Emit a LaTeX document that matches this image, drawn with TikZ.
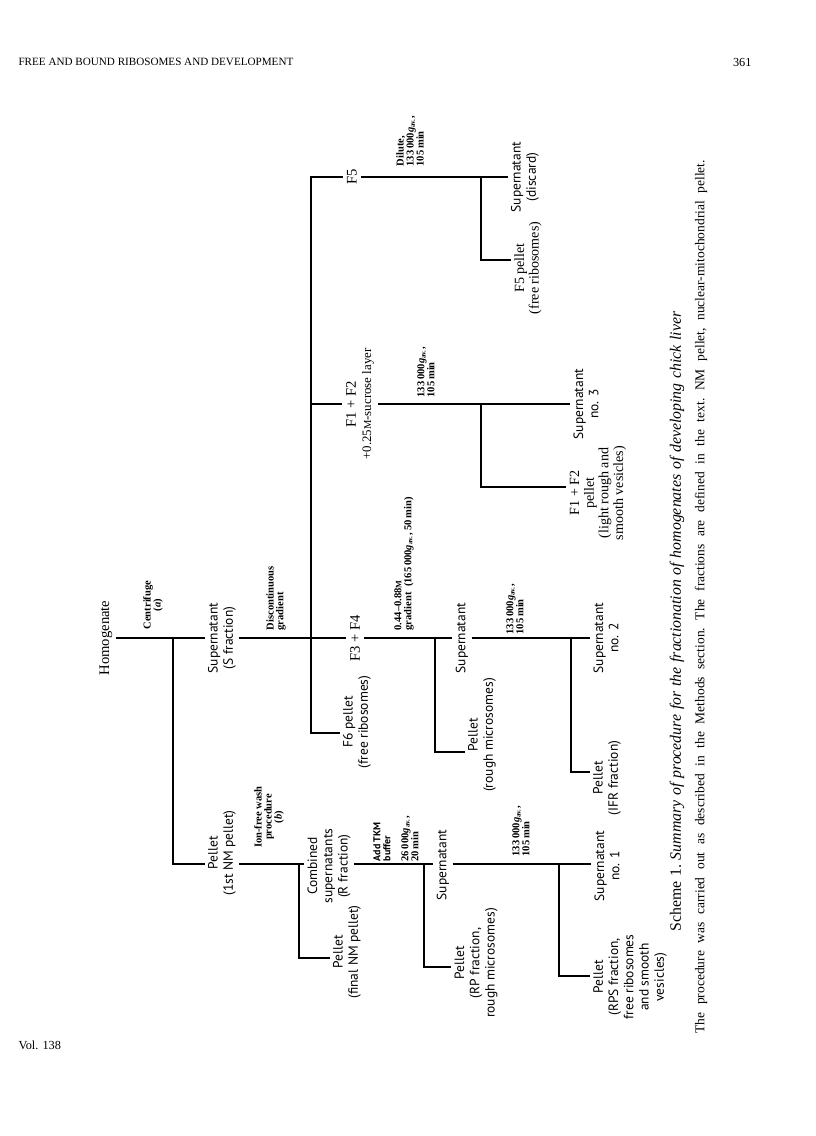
\documentclass[tikz,border=0pt]{standalone}
\usepackage{fontspec}
\setmainfont{Liberation Serif}
\setsansfont{PT Sans}
\newcommand{\gav}{\textit{g}\textsubscript{av.}}
\newcommand{\molar}{{\scriptsize M}}

\begin{document}
\begin{tikzpicture}[
      x=0.03cm, y=-0.03cm,
      line width=0.9pt,
      prod/.style={rotate=90, align=center, inner sep=2.5pt, font=\sffamily\fontsize{11.5}{13}\selectfont},
      prodrm/.style={rotate=90, align=center, inner sep=2.5pt, font=\fontsize{12}{12.5}\selectfont},
      fr/.style={rotate=90, align=center, inner sep=3pt, font=\fontsize{12.5}{13}\selectfont},
      cond/.style={rotate=90, align=center, inner sep=1pt, font=\bfseries\fontsize{9}{8.5}\selectfont},
      condl/.style={cond, anchor=west, align=left},
      condsf/.style={condl, font=\sffamily\bfseries\fontsize{8.5}{8.5}\selectfont},
      pagetext/.style={inner sep=0pt, font=\fontsize{9.5}{12}\selectfont}
    ]
      \path[use as bounding box, fill=white] (0,0) rectangle (816,1136);

      \node[pagetext, anchor=west] (hdr) at (18,62) {FREE AND BOUND RIBOSOMES AND DEVELOPMENT};
      \node[pagetext, anchor=east, font=\fontsize{10.5}{12}\selectfont] (pgno) at (752,62) {361};
      \node[pagetext, anchor=west, font=\fontsize{10.5}{12}\selectfont] (vol) at (18,1045) {Vol. 138};

      \node[fr] (homog) at (106,638) {Homogenate};
      \node[prod] (sfrac) at (222,638) {Supernatant\\(S fraction)};
      \node[prod] (pel1) at (222,853) {Pellet\\(1st NM pellet)};
      \node[prod] (comb) at (329,866) {Combined\\supernatants\\(R fraction)};
      \node[prod] (pelfin) at (347,952) {Pellet\\(final NM pellet)};
      \node[prod] (supR) at (443,865) {Supernatant};
      \node[prod] (pelRP) at (476,963) {Pellet\\(RP fraction,\\rough microsomes)};
      \node[prod] (sup1) at (607,866) {Supernatant\\no. 1};
      \node[prod] (pelRPS) at (630,977) {Pellet\\(RPS fraction,\\free ribosomes\\and smooth\\vesicles)};

      \node[fr] (f5) at (352,177) {F5};
      \node[prod] (supdis) at (525,177) {Supernatant\\(discard)};
      \node[prodrm] (f5pel) at (528,268) {F5 pellet\\(free ribosomes)};
      \node[fr] (f12) at (360,404) {F1 + F2\\{\fontsize{11}{13}\selectfont +0.25{\small M}-sucrose layer}};
      \node[prod] (sup3) at (586,404) {Supernatant\\no. 3};
      \node[prodrm] (f12pel) at (598,493) {F1 + F2\\pellet\\(light rough and\\smooth vesicles)};
      \node[fr] (f34) at (355,638) {F3 + F4};
      \node[prod] (f6) at (357,722) {F6 pellet\\(free ribosomes)};
      \node[prod] (supF) at (462,638) {Supernatant};
      \node[prod] (pelrough) at (482,735) {Pellet\\(rough microsomes)};
      \node[prod] (sup2) at (606,638) {Supernatant\\no. 2};
      \node[prod] (pelIFR) at (607,778) {Pellet\\(IFR fraction)};

      \node[cond] (cfg) at (153,605) {Centrifuge\\(\textit{a})};
      \node[condl] (disc) at (276,632) {Discontinuous\\gradient};
      \node[cond] (wash) at (269,817) {Ion-free wash\\procedure\\(\textit{b})};
      \node[condsf] (tkm) at (382,863) {Add TKM\\buffer};
      \node[condl] (spinA) at (410,863) {26\,000\gav,\\20\,min};
      \node[condl] (spinB) at (521,858) {133\,000\gav,\\105\,min};
      \node[condl] (grad) at (404,632) {0.44--0.88\molar\\gradient\ \ (165\,000\gav, 50\,min)};
      \node[condl] (spinC) at (515,636) {133\,000\gav,\\105\,min};
      \node[condl] (spinD) at (426,399) {133\,000\gav,\\105\,min};
      \node[condl] (spinE) at (410,168) {Dilute,\\133\,000\gav,\\105\,min};

      \node[rotate=90, anchor=west, inner sep=0pt, font=\fontsize{13.5}{14}\selectfont] (cap) at (677,932)
        {\frenchspacing\makebox[18.6cm][s]{Scheme 1. \textit{Summary of procedure for the fractionation of homogenates of developing chick liver}}};
      \node[rotate=90, anchor=west, inner sep=0pt, font=\fontsize{11.5}{13}\selectfont] (note) at (701,1034)
        {\frenchspacing\makebox[26.2cm][s]{The procedure was carried out as described in the Methods section. The fractions are defined in the text. NM pellet, nuclear-mitochondrial pellet.}};

      \coordinate (c1) at (173,638);
      \coordinate (d1) at (173,864);
      \coordinate (c2) at (299,864);
      \coordinate (d2) at (299,958);
      \coordinate (c3) at (424,864);
      \coordinate (d3) at (424,967);
      \coordinate (c4) at (559,864);
      \coordinate (d4) at (559,976);
      \coordinate (m1) at (311,177);
      \coordinate (m2) at (311,733);
      \coordinate (m3) at (311,404);
      \coordinate (c5) at (435,638);
      \coordinate (d5) at (435,752);
      \coordinate (c6) at (571,638);
      \coordinate (d6) at (571,772);
      \coordinate (c7) at (481,177);
      \coordinate (d7) at (481,260);
      \coordinate (c8) at (481,404);
      \coordinate (d8) at (481,487);

      \draw (homog.south) -- (sfrac.north);
      \draw (c1) -- (d1) -- (d1 -| pel1.north);
      \draw (pel1.south |- c2) -- (comb.north |- c2);
      \draw (comb.south |- c2) -- (supR.north |- c2);
      \draw (supR.south |- c2) -- (sup1.north |- c2);
      \draw (c2) -- (d2) -- (d2 -| pelfin.north);
      \draw (c3) -- (d3) -- (d3 -| pelRP.north);
      \draw (c4) -- (d4) -- (d4 -| pelRPS.north);

      \draw (sfrac.south) -- (f34.north);
      \draw (f5.north) -- (m1) -- (m2) -- (m2 -| f6.north);
      \draw (m3) -- (m3 -| f12.north);
      \draw (f5.south) -- (supdis.north);
      \draw (c7) -- (d7) -- (d7 -| f5pel.north);
      \draw (f12.south |- m3) -- (sup3.north |- m3);
      \draw (c8) -- (d8) -- (d8 -| f12pel.north);
      \draw (f34.south) -- (supF.north);
      \draw (c5) -- (d5) -- (d5 -| pelrough.north);
      \draw (supF.south) -- (sup2.north);
      \draw (c6) -- (d6) -- (d6 -| pelIFR.north);
    \end{tikzpicture}
\end{document}
